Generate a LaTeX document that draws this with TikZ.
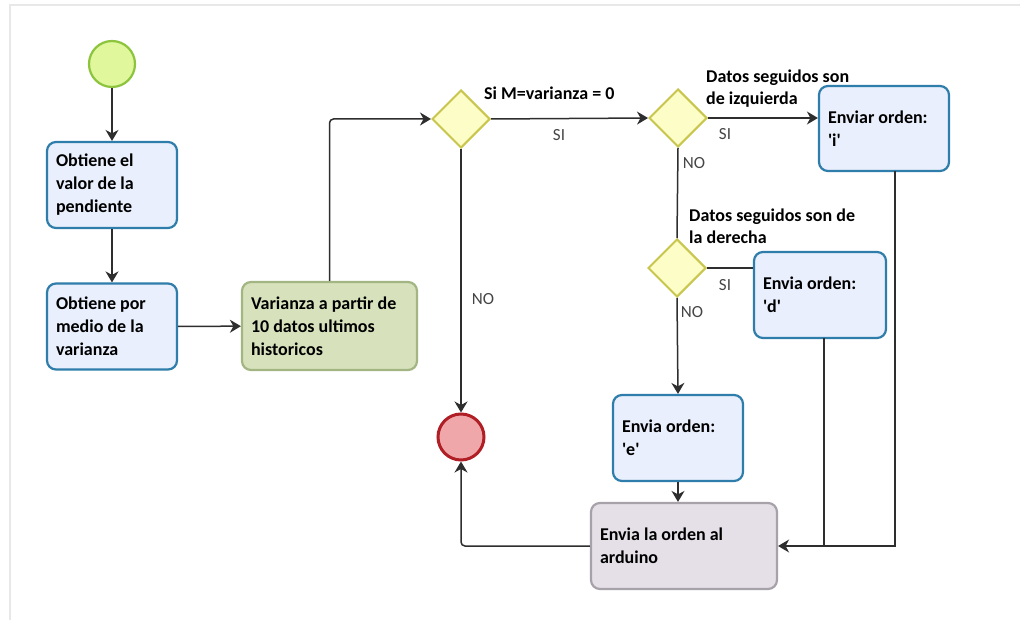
\documentclass[tikz,border=0pt]{standalone}
\usepackage{fontspec}
\setmainfont{Carlito}
\usetikzlibrary{arrows.meta,shapes.geometric}

\definecolor{taskfill}{HTML}{E9EFFC}
\definecolor{taskline}{HTML}{2F7DAA}
\definecolor{calcfill}{HTML}{D7E2BC}
\definecolor{calcline}{HTML}{A3B583}
\definecolor{sendfill}{HTML}{E5DFE8}
\definecolor{sendline}{HTML}{A7A1AA}
\definecolor{gatefill}{HTML}{FDFDC8}
\definecolor{gateline}{HTML}{C8C64C}
\definecolor{startfill}{HTML}{E0F79C}
\definecolor{startline}{HTML}{8CC43E}
\definecolor{endfill}{HTML}{EFA7AA}
\definecolor{endline}{HTML}{B01F26}
\definecolor{wire}{HTML}{2E2E2E}
\definecolor{frameline}{HTML}{E8E8E8}
\definecolor{labelgrey}{HTML}{454545}

\tikzset{
  boxbase/.style={line width=2.2pt, rounded corners=9pt, inner xsep=9pt, inner ysep=0pt,
    minimum height=86pt, align=flush left, font=\bfseries\fontsize{18}{23}\selectfont},
  task/.style={boxbase, draw=taskline, fill=taskfill},
  calc/.style={boxbase, draw=calcline, fill=calcfill},
  send/.style={boxbase, draw=sendline, fill=sendfill},
  gate/.style={diamond, aspect=1, minimum size=58pt, inner sep=0pt,
    draw=gateline, fill=gatefill, line width=2pt},
  startev/.style={circle, minimum size=46pt, inner sep=0pt,
    draw=startline, fill=startfill, line width=2.2pt},
  endev/.style={circle, minimum size=46pt, inner sep=0pt,
    draw=endline, fill=endfill, line width=3pt},
  wireline/.style={draw=wire, line width=1.5pt},
  flow/.style={wireline, -{Stealth[length=11pt,width=13pt,inset=3.5pt]}},
  cond/.style={font=\bfseries\fontsize{18}{22}\selectfont, align=flush left, inner sep=0pt},
  branch/.style={font=\fontsize{17}{20}\selectfont, text=labelgrey, inner sep=0pt}
}

\newcommand{\sq}{\textquotesingle}

\begin{document}
\begin{tikzpicture}[x=1pt,y=-1pt]
\useasboundingbox (0,0) rectangle (1020,620);
\fill[white] (0,0) rectangle (1020,620);
% outer frame
\draw[frameline, line width=2pt] (1020,5) -- (10,5) -- (10,620);

% events
\node[startev] (start) at (112,64) {};
\node[endev] (stop) at (461,437) {};

% tasks
\node[task, text width=112pt] (pend) at (112,185) {Obtiene el\\valor de la\\pendiente};
\node[task, text width=112pt] (var) at (112,326.5) {Obtiene por\\medio de la\\varianza};
\node[calc, text width=157pt, minimum height=88pt] (hist) at (329.5,326) {Varianza a partir de\\10 datos ultimos\\historicos};

% gateways
\node[gate] (g1) at (461,119) {};
\node[gate] (g2) at (678,118) {};
\node[gate] (g3) at (677,268) {};

% orders
\node[task, text width=112pt, minimum height=85pt] (oi) at (884,128.5) {Enviar orden:\\\sq i\sq\\[4pt]};
\node[task, text width=114pt] (od) at (820,295) {Envia orden:\\\sq d\sq\\[4pt]};
\node[task, text width=112pt] (oe) at (678,438) {Envia orden:\\\sq e\sq\\[4pt]};
\node[send, text width=168pt] (ard) at (684,546) {Envia la orden al\\arduino};

% condition texts
\node[cond, anchor=base west] (c1) at (484,100) {Si M=varianza = 0};
\node[cond, anchor=north west] (c2) at (706,70) {Datos seguidos son\\de izquierda};
\node[cond, anchor=north west] (c3) at (689,209) {Datos seguidos son de\\la derecha};

% connectors
\draw[flow] (start) -- (pend);
\draw[flow] (pend) -- (var);
\draw[flow] (var) -- (hist);
\draw[flow, rounded corners=4pt] (hist.north) |- (g1.west);
\draw[flow] (g1.east) -- (g2.west);
\draw[flow] (g1.south) -- (stop.north);
\draw[flow] (g2.east) -- (g2.east -| oi.west);
\draw[wireline] (g2.south) -- (g3.north);
\draw[wireline] (g3.east) -- (g3.east -| od.west);
\draw[flow] (g3.south) -- (oe.north);
\draw[flow] (oe.south) -- (oe.south |- ard.north);
\draw[flow, rounded corners=4pt] (ard.west) -| (stop.south);

\coordinate (iout) at (895,171);
\coordinate (dout) at (824,338);
\draw[flow] (iout) |- (ard.east);
\draw[wireline] (dout) -- (dout |- ard.east);

% branch labels
\node[branch] (s1) at (559,135) {SI};
\node[branch] (n1) at (483,299) {NO};
\node[branch] (s2) at (725,134) {SI};
\node[branch] (n2) at (694,163) {NO};
\node[branch] (s3) at (725,285) {SI};
\node[branch] (n3) at (692,312) {NO};
\end{tikzpicture}
\end{document}
